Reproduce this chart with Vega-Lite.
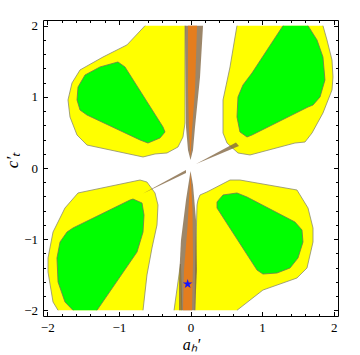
{
  "$schema": "https://vega.github.io/schema/vega-lite/v6.json",
  "width": 295,
  "height": 296,
  "autosize": "none",
  "padding": {"left": 43, "top": 20, "right": 22, "bottom": 39},
  "background": "white",
  "config": {
    "view": {"stroke": null},
    "axis": {"grid": false, "labelFont": "Liberation Serif", "labelFontSize": 13, "labelColor": "black", "tickColor": "black", "domainColor": "black", "domainWidth": 1, "tickWidth": 1, "titleColor": "black"}
  },
  "datasets": {
    "poly": [
      {"k":"Y","p":"ULY","o":0,"x":-0.635,"y":2.0},
      {"k":"Y","p":"ULY","o":1,"x":-0.887,"y":1.73},
      {"k":"Y","p":"ULY","o":2,"x":-1.222,"y":1.56},
      {"k":"Y","p":"ULY","o":3,"x":-1.543,"y":1.378},
      {"k":"Y","p":"ULY","o":4,"x":-1.655,"y":1.195},
      {"k":"Y","p":"ULY","o":5,"x":-1.711,"y":0.956},
      {"k":"Y","p":"ULY","o":6,"x":-1.683,"y":0.717},
      {"k":"Y","p":"ULY","o":7,"x":-1.585,"y":0.464},
      {"k":"Y","p":"ULY","o":8,"x":-1.446,"y":0.323},
      {"k":"Y","p":"ULY","o":9,"x":-0.663,"y":0.155},
      {"k":"Y","p":"ULY","o":10,"x":-0.496,"y":0.197},
      {"k":"Y","p":"ULY","o":11,"x":-0.328,"y":0.211},
      {"k":"Y","p":"ULY","o":12,"x":-0.175,"y":0.295},
      {"k":"Y","p":"ULY","o":13,"x":-0.105,"y":0.436},
      {"k":"Y","p":"ULY","o":14,"x":-0.077,"y":0.632},
      {"k":"Y","p":"ULY","o":15,"x":-0.077,"y":2.0},

      {"k":"Y","p":"URY","o":0,"x":0.649,"y":2.0},
      {"k":"Y","p":"URY","o":1,"x":0.622,"y":1.841},
      {"k":"Y","p":"URY","o":2,"x":0.552,"y":1.42},
      {"k":"Y","p":"URY","o":3,"x":0.454,"y":0.956},
      {"k":"Y","p":"URY","o":4,"x":0.454,"y":0.492},
      {"k":"Y","p":"URY","o":5,"x":0.51,"y":0.351},
      {"k":"Y","p":"URY","o":6,"x":0.663,"y":0.211},
      {"k":"Y","p":"URY","o":7,"x":0.831,"y":0.183},
      {"k":"Y","p":"URY","o":8,"x":1.459,"y":0.351},
      {"k":"Y","p":"URY","o":9,"x":1.599,"y":0.365},
      {"k":"Y","p":"URY","o":10,"x":1.697,"y":0.492},
      {"k":"Y","p":"URY","o":11,"x":1.85,"y":0.773},
      {"k":"Y","p":"URY","o":12,"x":1.976,"y":1.096},
      {"k":"Y","p":"URY","o":13,"x":1.99,"y":1.279},
      {"k":"Y","p":"URY","o":14,"x":1.976,"y":1.518},
      {"k":"Y","p":"URY","o":15,"x":1.906,"y":1.799},
      {"k":"Y","p":"URY","o":16,"x":1.85,"y":2.0},

      {"k":"Y","p":"LLY","o":0,"x":-1.85,"y":-2.0},
      {"k":"Y","p":"LLY","o":1,"x":-1.92,"y":-1.883},
      {"k":"Y","p":"LLY","o":2,"x":-1.99,"y":-1.462},
      {"k":"Y","p":"LLY","o":3,"x":-1.99,"y":-1.265},
      {"k":"Y","p":"LLY","o":4,"x":-1.92,"y":-0.9},
      {"k":"Y","p":"LLY","o":5,"x":-1.753,"y":-0.562},
      {"k":"Y","p":"LLY","o":6,"x":-1.571,"y":-0.351},
      {"k":"Y","p":"LLY","o":7,"x":-0.705,"y":-0.169},
      {"k":"Y","p":"LLY","o":8,"x":-0.608,"y":-0.197},
      {"k":"Y","p":"LLY","o":9,"x":-0.496,"y":-0.351},
      {"k":"Y","p":"LLY","o":10,"x":-0.454,"y":-0.52},
      {"k":"Y","p":"LLY","o":11,"x":-0.468,"y":-0.801},
      {"k":"Y","p":"LLY","o":12,"x":-0.538,"y":-1.124},
      {"k":"Y","p":"LLY","o":13,"x":-0.608,"y":-1.504},
      {"k":"Y","p":"LLY","o":14,"x":-0.663,"y":-2.0},

      {"k":"Y","p":"LRY","o":0,"x":0.063,"y":-2.0},
      {"k":"Y","p":"LRY","o":1,"x":0.077,"y":-1.04},
      {"k":"Y","p":"LRY","o":2,"x":0.091,"y":-0.52},
      {"k":"Y","p":"LRY","o":3,"x":0.105,"y":-0.45},
      {"k":"Y","p":"LRY","o":4,"x":0.133,"y":-0.379},
      {"k":"Y","p":"LRY","o":5,"x":0.23,"y":-0.337},
      {"k":"Y","p":"LRY","o":6,"x":0.552,"y":-0.169},
      {"k":"Y","p":"LRY","o":7,"x":0.691,"y":-0.169},
      {"k":"Y","p":"LRY","o":8,"x":1.487,"y":-0.309},
      {"k":"Y","p":"LRY","o":9,"x":1.641,"y":-0.562},
      {"k":"Y","p":"LRY","o":10,"x":1.711,"y":-0.843},
      {"k":"Y","p":"LRY","o":11,"x":1.711,"y":-1.04},
      {"k":"Y","p":"LRY","o":12,"x":1.627,"y":-1.405},
      {"k":"Y","p":"LRY","o":13,"x":1.487,"y":-1.546},
      {"k":"Y","p":"LRY","o":14,"x":1.012,"y":-1.715},
      {"k":"Y","p":"LRY","o":15,"x":0.649,"y":-2.0},

      {"k":"Y","p":"LSY","o":0,"x":-0.23,"y":-2.0},
      {"k":"Y","p":"LSY","o":1,"x":-0.14,"y":-1.35},
      {"k":"Y","p":"LSY","o":2,"x":-0.12,"y":-2.0},

      {"k":"G","p":"ULG","o":0,"x":-1.013,"y":1.49},
      {"k":"G","p":"ULG","o":1,"x":-1.264,"y":1.42},
      {"k":"G","p":"ULG","o":2,"x":-1.473,"y":1.307},
      {"k":"G","p":"ULG","o":3,"x":-1.571,"y":1.138},
      {"k":"G","p":"ULG","o":4,"x":-1.585,"y":0.956},
      {"k":"G","p":"ULG","o":5,"x":-1.543,"y":0.815},
      {"k":"G","p":"ULG","o":6,"x":-1.446,"y":0.745},
      {"k":"G","p":"ULG","o":7,"x":-0.705,"y":0.394},
      {"k":"G","p":"ULG","o":8,"x":-0.594,"y":0.351},
      {"k":"G","p":"ULG","o":9,"x":-0.426,"y":0.422},
      {"k":"G","p":"ULG","o":10,"x":-0.356,"y":0.506},
      {"k":"G","p":"ULG","o":11,"x":-0.384,"y":0.576},
      {"k":"G","p":"ULG","o":12,"x":-0.915,"y":1.42},
      {"k":"G","p":"ULG","o":13,"x":-1.013,"y":1.49},

      {"k":"G","p":"URG","o":0,"x":1.641,"y":2.0},
      {"k":"G","p":"URG","o":1,"x":1.767,"y":1.799},
      {"k":"G","p":"URG","o":2,"x":1.85,"y":1.56},
      {"k":"G","p":"URG","o":3,"x":1.878,"y":1.237},
      {"k":"G","p":"URG","o":4,"x":1.809,"y":0.998},
      {"k":"G","p":"URG","o":5,"x":1.711,"y":0.885},
      {"k":"G","p":"URG","o":6,"x":1.641,"y":0.857},
      {"k":"G","p":"URG","o":7,"x":0.859,"y":0.464},
      {"k":"G","p":"URG","o":8,"x":0.789,"y":0.436},
      {"k":"G","p":"URG","o":9,"x":0.691,"y":0.506},
      {"k":"G","p":"URG","o":10,"x":0.649,"y":0.717},
      {"k":"G","p":"URG","o":11,"x":0.663,"y":0.998},
      {"k":"G","p":"URG","o":12,"x":0.733,"y":1.167},
      {"k":"G","p":"URG","o":13,"x":0.859,"y":1.335},
      {"k":"G","p":"URG","o":14,"x":1.292,"y":2.0},

      {"k":"G","p":"LLG","o":0,"x":-1.641,"y":-2.0},
      {"k":"G","p":"LLG","o":1,"x":-1.753,"y":-1.883},
      {"k":"G","p":"LLG","o":2,"x":-1.85,"y":-1.602},
      {"k":"G","p":"LLG","o":3,"x":-1.865,"y":-1.265},
      {"k":"G","p":"LLG","o":4,"x":-1.822,"y":-1.04},
      {"k":"G","p":"LLG","o":5,"x":-1.725,"y":-0.9},
      {"k":"G","p":"LLG","o":6,"x":-1.641,"y":-0.843},
      {"k":"G","p":"LLG","o":7,"x":-0.845,"y":-0.45},
      {"k":"G","p":"LLG","o":8,"x":-0.803,"y":-0.436},
      {"k":"G","p":"LLG","o":9,"x":-0.677,"y":-0.492},
      {"k":"G","p":"LLG","o":10,"x":-0.649,"y":-0.661},
      {"k":"G","p":"LLG","o":11,"x":-0.663,"y":-0.9},
      {"k":"G","p":"LLG","o":12,"x":-0.747,"y":-1.181},
      {"k":"G","p":"LLG","o":13,"x":-1.306,"y":-2.0},

      {"k":"G","p":"LRG","o":0,"x":0.37,"y":-0.478},
      {"k":"G","p":"LRG","o":1,"x":0.454,"y":-0.379},
      {"k":"G","p":"LRG","o":2,"x":0.649,"y":-0.351},
      {"k":"G","p":"LRG","o":3,"x":0.789,"y":-0.408},
      {"k":"G","p":"LRG","o":4,"x":1.459,"y":-0.759},
      {"k":"G","p":"LRG","o":5,"x":1.557,"y":-0.871},
      {"k":"G","p":"LRG","o":6,"x":1.571,"y":-1.04},
      {"k":"G","p":"LRG","o":7,"x":1.501,"y":-1.265},
      {"k":"G","p":"LRG","o":8,"x":1.39,"y":-1.405},
      {"k":"G","p":"LRG","o":9,"x":1.208,"y":-1.476},
      {"k":"G","p":"LRG","o":10,"x":1.012,"y":-1.49},
      {"k":"G","p":"LRG","o":11,"x":0.929,"y":-1.434},
      {"k":"G","p":"LRG","o":12,"x":0.37,"y":-0.562},
      {"k":"G","p":"LRG","o":13,"x":0.37,"y":-0.478},

      {"k":"B","p":"BU","o":0,"x":-0.077,"y":2.0},
      {"k":"B","p":"BU","o":1,"x":-0.07,"y":1.279},
      {"k":"B","p":"BU","o":2,"x":-0.063,"y":0.576},
      {"k":"B","p":"BU","o":3,"x":-0.035,"y":0.253},
      {"k":"B","p":"BU","o":4,"x":0.0,"y":0.112},
      {"k":"B","p":"BU","o":5,"x":0.035,"y":0.253},
      {"k":"B","p":"BU","o":6,"x":0.063,"y":0.576},
      {"k":"B","p":"BU","o":7,"x":0.133,"y":1.279},
      {"k":"B","p":"BU","o":8,"x":0.175,"y":2.0},

      {"k":"B","p":"BL","o":0,"x":0.0,"y":-0.042},
      {"k":"B","p":"BL","o":1,"x":-0.063,"y":-0.45},
      {"k":"B","p":"BL","o":2,"x":-0.133,"y":-1.012},
      {"k":"B","p":"BL","o":3,"x":-0.161,"y":-1.574},
      {"k":"B","p":"BL","o":4,"x":-0.161,"y":-2.0},
      {"k":"B","p":"BL","o":5,"x":0.063,"y":-2.0},
      {"k":"B","p":"BL","o":6,"x":0.091,"y":-1.434},
      {"k":"B","p":"BL","o":7,"x":0.077,"y":-0.731},
      {"k":"B","p":"BL","o":8,"x":0.035,"y":-0.239},

      {"k":"B","p":"D1","o":0,"x":0.077,"y":0.056},
      {"k":"B","p":"D1","o":1,"x":0.635,"y":0.358},
      {"k":"B","p":"D1","o":2,"x":0.677,"y":0.309},

      {"k":"B","p":"D2","o":0,"x":-0.663,"y":-0.358},
      {"k":"B","p":"D2","o":1,"x":-0.063,"y":-0.028},
      {"k":"B","p":"D2","o":2,"x":-0.063,"y":-0.07},

      {"k":"O","p":"OU","o":0,"x":-0.035,"y":2.0},
      {"k":"O","p":"OU","o":1,"x":-0.035,"y":1.096},
      {"k":"O","p":"OU","o":2,"x":-0.021,"y":0.534},
      {"k":"O","p":"OU","o":3,"x":0.0,"y":0.14},
      {"k":"O","p":"OU","o":4,"x":0.021,"y":0.534},
      {"k":"O","p":"OU","o":5,"x":0.063,"y":1.096},
      {"k":"O","p":"OU","o":6,"x":0.091,"y":2.0},

      {"k":"O","p":"OL","o":0,"x":0.0,"y":-0.07},
      {"k":"O","p":"OL","o":1,"x":-0.042,"y":-0.829},
      {"k":"O","p":"OL","o":2,"x":-0.091,"y":-1.434},
      {"k":"O","p":"OL","o":3,"x":-0.105,"y":-2.0},
      {"k":"O","p":"OL","o":4,"x":0.021,"y":-2.0},
      {"k":"O","p":"OL","o":5,"x":0.035,"y":-1.293},
      {"k":"O","p":"OL","o":6,"x":0.028,"y":-0.59}
    ],
    "star": [{"x": -0.04, "y": -1.63}]
  },
  "layer": [
    {
      "data": {"name": "poly"},
      "transform": [{"filter": "datum.k == 'Y'"}],
      "mark": {"type": "line", "fill": "#ffff00", "stroke": "#8c8c6e", "strokeWidth": 0.8},
      "encoding": {
        "x": {"field": "x", "type": "quantitative", "scale": {"domain": [-2.06, 2.06], "nice": false, "zero": false},
              "axis": {"orient": "bottom", "values": [-2, -1, 0, 1, 2], "format": "d", "tickSize": -4.5, "labelPadding": 10, "domain": true,
                       "title": "aₕ′", "titleFont": "Liberation Serif", "titleFontStyle": "italic", "titleFontWeight": "normal", "titleFontSize": 16,
                       "titleX": 148, "titleY": 28, "titleBaseline": "middle", "titleAlign": "center"}},
        "y": {"field": "y", "type": "quantitative", "scale": {"domain": [-2.08, 2.08], "nice": false, "zero": false},
              "axis": {"orient": "left", "values": [-2, -1, 0, 1, 2], "format": "d", "tickSize": -4.5, "labelPadding": 10, "domain": true,
                       "title": "c′ₜ", "titleFont": "Liberation Serif", "titleFontStyle": "italic", "titleFontWeight": "normal", "titleFontSize": 17,
                       "titleX": -31, "titleY": 140, "titleAngle": -90, "titleBaseline": "middle", "titleAlign": "center"}},
        "detail": {"field": "p", "type": "nominal"},
        "order": {"field": "o", "type": "quantitative"}
      }
    },
    {
      "data": {"name": "poly"},
      "transform": [{"filter": "datum.k == 'G'"}],
      "mark": {"type": "line", "fill": "#00ff00", "stroke": "#6f7a55", "strokeWidth": 0.8},
      "encoding": {
        "x": {"field": "x", "type": "quantitative", "axis": {"orient": "top", "values": [-2, -1, 0, 1, 2], "tickSize": -4.5, "labels": false, "title": null, "domain": true}},
        "y": {"field": "y", "type": "quantitative", "axis": {"orient": "right", "values": [-2, -1, 0, 1, 2], "tickSize": -4.5, "labels": false, "title": null, "domain": true}},
        "detail": {"field": "p", "type": "nominal"},
        "order": {"field": "o", "type": "quantitative"}
      }
    },
    {
      "data": {"name": "poly"},
      "transform": [{"filter": "datum.k == 'B'"}],
      "mark": {"type": "line", "fill": "#80643f", "fillOpacity": 0.78, "strokeOpacity": 0},
      "encoding": {
        "x": {"field": "x", "type": "quantitative", "axis": {"orient": "bottom", "values": [-1.8,-1.6,-1.4,-1.2,-0.8,-0.6,-0.4,-0.2,0.2,0.4,0.6,0.8,1.2,1.4,1.6,1.8], "tickSize": -2.5, "labels": false, "title": null, "domain": false}},
        "y": {"field": "y", "type": "quantitative", "axis": {"orient": "left", "values": [-1.8,-1.6,-1.4,-1.2,-0.8,-0.6,-0.4,-0.2,0.2,0.4,0.6,0.8,1.2,1.4,1.6,1.8], "tickSize": -2.5, "labels": false, "title": null, "domain": false}},
        "detail": {"field": "p", "type": "nominal"},
        "order": {"field": "o", "type": "quantitative"}
      }
    },
    {
      "data": {"name": "poly"},
      "transform": [{"filter": "datum.k == 'O'"}],
      "mark": {"type": "line", "fill": "#e47d1e", "strokeOpacity": 0},
      "encoding": {
        "x": {"field": "x", "type": "quantitative", "axis": {"orient": "top", "values": [-1.8,-1.6,-1.4,-1.2,-0.8,-0.6,-0.4,-0.2,0.2,0.4,0.6,0.8,1.2,1.4,1.6,1.8], "tickSize": -2.5, "labels": false, "title": null, "domain": false}},
        "y": {"field": "y", "type": "quantitative", "axis": {"orient": "right", "values": [-1.8,-1.6,-1.4,-1.2,-0.8,-0.6,-0.4,-0.2,0.2,0.4,0.6,0.8,1.2,1.4,1.6,1.8], "tickSize": -2.5, "labels": false, "title": null, "domain": false}},
        "detail": {"field": "p", "type": "nominal"},
        "order": {"field": "o", "type": "quantitative"}
      }
    },
    {
      "data": {"name": "star"},
      "mark": {"type": "point", "shape": "M0,-1L0.2245,-0.309L0.951,-0.309L0.363,0.118L0.588,0.809L0,0.382L-0.588,0.809L-0.363,0.118L-0.951,-0.309L-0.2245,-0.309Z", "filled": true, "color": "#1414ff", "size": 100, "opacity": 1},
      "encoding": {
        "x": {"field": "x", "type": "quantitative", "axis": null},
        "y": {"field": "y", "type": "quantitative", "axis": null}
      }
    }
  ],
  "resolve": {"axis": {"x": "independent", "y": "independent"}}
}
